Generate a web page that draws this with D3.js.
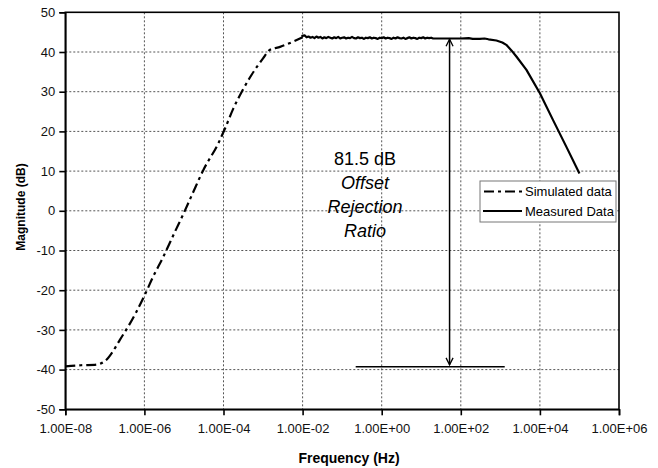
<!DOCTYPE html>
<html><head><meta charset="utf-8">
<script src="https://cdn.jsdelivr.net/npm/d3@7"></script>
<style>
body{margin:0;background:#fff;}
svg{display:block;font-family:"Liberation Sans",Arial,sans-serif;}
</style></head>
<body><svg id="c" width="658" height="468"></svg>
<script>
// ---- data ----
const xTickValues = [1e-8,1e-6,1e-4,1e-2,1e0,1e2,1e4,1e6];
const yTickValues = [-50,-40,-30,-20,-10,0,10,20,30,40,50];
const simFreq = [1e-8,2.5e-8,5.6e-8,1e-7,1.48e-7,2.4e-7,4.37e-7,6.3e-7,1.02e-6,1.66e-6,3.0e-6,5.9e-6,1e-5,1.66e-5,3.1e-5,7.4e-5,1.1e-4,1.78e-4,2.9e-4,5.1e-4,1e-3,1.48e-3,2.7e-3,5.75e-3,1e-2];
const simMag  = [-39.2,-38.9,-38.8,-37.9,-35.9,-32.5,-28.3,-25.4,-21.2,-16.6,-11.6,-5.3,-0.5,4.4,10.3,17.0,20.8,25.8,30.0,34.2,38.4,40.5,41.3,42.6,43.7];
const measFreqExp = [-2.03,-1.95,-1.9,-1.85,-1.8,-1.75,-1.7,-1.65,-1.6,-1.55,-1.5,-1.45,-1.4,-1.35,-1.3,-1.25,-1.2,-1.15,-1.1,-1.05,-1.0,-0.95,-0.9,-0.85,-0.8,-0.75,-0.7,-0.65,-0.6,-0.55,-0.5,-0.45,-0.4,-0.35,-0.3,-0.25,-0.2,-0.15,-0.1,-0.05,0.0,0.05,0.1,0.15,0.2,0.25,0.3,0.35,0.4,0.45,0.5,0.55,0.6,0.65,0.7,0.75,0.8,0.85,0.9,0.95,1.0,1.05,1.1,1.15,1.2,1.25,1.3,1.5,2.0,2.2,2.3,2.48,2.6,2.7,2.9,3.05,3.15,3.28,3.41,3.66,4.0,4.33,4.67,5.0];
const measMag = [44.0,44.2,43.7,43.9,43.6,43.8,43.5,43.9,43.6,43.8,43.4,43.7,43.5,43.8,43.6,43.4,43.7,43.5,43.8,43.4,43.6,43.7,43.4,43.6,43.5,43.8,43.5,43.4,43.7,43.5,43.6,43.3,43.6,43.5,43.7,43.4,43.6,43.5,43.3,43.6,43.5,43.7,43.4,43.6,43.5,43.3,43.6,43.4,43.7,43.5,43.4,43.6,43.3,43.5,43.7,43.4,43.6,43.5,43.3,43.6,43.5,43.7,43.4,43.6,43.5,43.6,43.4,43.4,43.4,43.5,43.3,43.3,43.4,43.2,42.9,42.4,41.8,40.4,38.8,35.5,29.6,22.9,16.1,9.4];
const arrowFreq = 52;           // Hz
const arrowTop = 43.2, arrowBottom = -38.8;
const baseLineFreq = [0.22, 1290];
const baseLineMag = -39.3;
const annotLines = ["81.5 dB","Offset","Rejection","Ratio"];
const legendLabels = ["Simulated data","Measured Data"];

// ---- layout ----
const svg = d3.select("#c");
const L=65.3, R=619, T=12.3, B=409.3;
const x = d3.scaleLog().domain([1e-8,1e6]).range([L,R]);
const y = d3.scaleLinear().domain([-50,50]).range([B,T]);

// grid
const g = svg.append("g");
g.selectAll(".gy").data(yTickValues.filter(v=>v>-50&&v<50)).join("line")
  .attr("x1",L).attr("x2",R).attr("y1",d=>y(d)).attr("y2",d=>y(d))
  .attr("stroke","#555").attr("stroke-width",1).attr("stroke-dasharray","2,2");
g.selectAll(".gx").data(xTickValues.filter(v=>v>1e-8&&v<1e6)).join("line")
  .attr("y1",T).attr("y2",B).attr("x1",d=>x(d)).attr("x2",d=>x(d))
  .attr("stroke","#555").attr("stroke-width",1).attr("stroke-dasharray","2,2");

// frame
svg.append("rect").attr("x",L).attr("y",T).attr("width",R-L).attr("height",B-T)
  .attr("fill","none").attr("stroke","#000").attr("stroke-width",1.6);

// axes
const fmt = d=>{const e=Math.round(Math.log10(d));return "1.00E"+(e<0?"-":"+")+String(Math.abs(e)).padStart(2,"0");};
const xa = svg.append("g").attr("transform",`translate(0,${B})`)
  .call(d3.axisBottom(x).tickValues(xTickValues).tickFormat(fmt).tickSize(6).tickPadding(8));
const ya = svg.append("g").attr("transform",`translate(${L},0)`)
  .call(d3.axisLeft(y).tickValues(yTickValues).tickFormat(d=>String(d)).tickSize(6).tickPadding(4));
[xa,ya].forEach(a=>{
  a.select(".domain").attr("stroke","#000").attr("stroke-width",1.6);
  a.selectAll(".tick line").attr("stroke","#000").attr("stroke-width",1.6);
  a.selectAll(".tick text").attr("fill","#111").style("font-size","13px").style("font-family","Liberation Sans, Arial, sans-serif");
});

// axis titles
svg.append("text").attr("x",349).attr("y",463).attr("text-anchor","middle")
  .style("font-size","14px").style("font-weight","bold").text("Frequency (Hz)");
svg.append("text").attr("transform",`translate(21,207) rotate(-90)`).attr("text-anchor","middle")
  .attr("dy","0.35em").style("font-size","12px").style("font-weight","bold").text("Magnitude (dB)");

// series
const line = d3.line().x(d=>x(d[0])).y(d=>y(d[1]));
const simData = simFreq.map((f,i)=>[f,simMag[i]]);
const measData = measFreqExp.map((e,i)=>[Math.pow(10,e),measMag[i]]);
svg.append("path").attr("d",line.curve(d3.curveMonotoneX)(simData)).attr("fill","none")
  .attr("stroke","#000").attr("stroke-width",2.2).attr("stroke-dasharray","10,4,3,4");
svg.append("path").attr("d",d3.line().x(d=>x(d[0])).y(d=>y(d[1])).curve(d3.curveLinear)(measData)).attr("fill","none")
  .attr("stroke","#000").attr("stroke-width",2.2).attr("stroke-linejoin","round");

// annotation
const ax = x(arrowFreq);
svg.append("line").attr("x1",ax).attr("x2",ax).attr("y1",y(arrowTop)).attr("y2",y(arrowBottom))
  .attr("stroke","#000").attr("stroke-width",1.5);
const head = (yy,dir)=>svg.append("path")
  .attr("d",`M${ax-3.5},${yy+dir*7} L${ax},${yy} L${ax+3.5},${yy+dir*7}`)
  .attr("fill","none").attr("stroke","#000").attr("stroke-width",1.3);
head(y(arrowTop),1); head(y(arrowBottom),-1);
svg.append("line").attr("x1",x(baseLineFreq[0])).attr("x2",x(baseLineFreq[1]))
  .attr("y1",y(baseLineMag)).attr("y2",y(baseLineMag)).attr("stroke","#000").attr("stroke-width",1.6);
const ty=[159,183,207,231];
annotLines.forEach((t,i)=>{
  svg.append("text").attr("x",365).attr("y",ty[i]).attr("text-anchor","middle").attr("dy","0.35em")
    .style("font-size","18px").style("font-style",i?"italic":"normal").text(t);
});

// legend
const lg = svg.append("g");
lg.append("rect").attr("x",480).attr("y",181).attr("width",136).attr("height",41)
  .attr("fill","#fff").attr("stroke","#777").attr("stroke-width",1);
const ly=[191.5,211];
lg.append("line").attr("x1",483).attr("x2",522).attr("y1",ly[0]).attr("y2",ly[0])
  .attr("stroke","#000").attr("stroke-width",2.2).attr("stroke-dasharray","10,4,3,4").attr("stroke-dashoffset",-1);
lg.append("line").attr("x1",483).attr("x2",522).attr("y1",ly[1]).attr("y2",ly[1])
  .attr("stroke","#000").attr("stroke-width",2);
legendLabels.forEach((t,i)=>lg.append("text").attr("x",525).attr("y",ly[i]).attr("dy","0.35em")
  .style("font-size","13px").text(t));
</script></body></html>
